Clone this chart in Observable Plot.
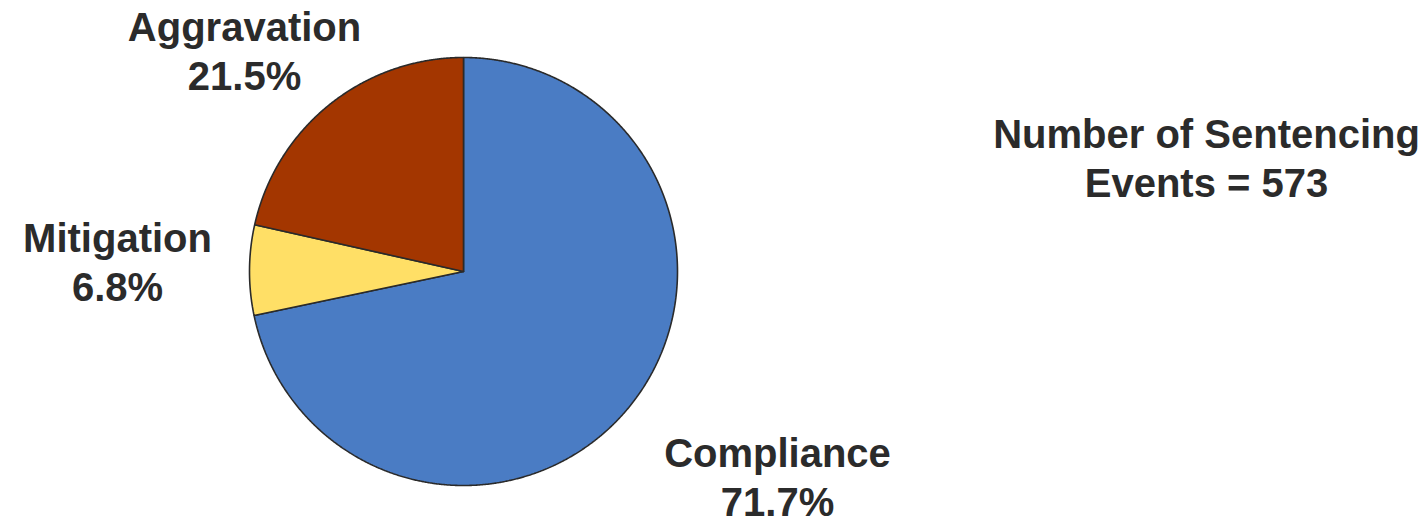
<!DOCTYPE html>
<html>
<head>
<meta charset="utf-8">
<script src="https://cdn.jsdelivr.net/npm/d3@7"></script>
<script src="https://cdn.jsdelivr.net/npm/@observablehq/plot@0.6"></script>
<style>
  html, body { margin: 0; padding: 0; background: #fff; }
  #chart { width: 1428px; height: 519px; }
</style>
</head>
<body>
<div id="chart"></div>
<script>
// ---- data ----
const categories = ["Compliance", "Mitigation", "Aggravation"];
const percentages = [71.7, 6.8, 21.5];
const colors = ["#4a7cc4", "#ffdf66", "#a33600"];
const totalEvents = 573;

// ---- layout (pixels) ----
const W = 1428, H = 519;
const cx = 463, cy = 271, R = 214;
// label anchors (pixel, middle-aligned x, top of first line)
const labelPx = [[777, 432], [117, 217], [244, 6]];
const notePx = [1206, 112];

const toX = px => (px - cx) / R;
const toY = py => (cy - py) / R;

// slices -> polygons in data units
const pie = d3.pie().sort(null).value(d => d)(percentages);
const polyPoints = [];
pie.forEach((s, i) => {
  const name = categories[i];
  polyPoints.push({name, x: 0, y: 0});
  const n = Math.max(2, Math.ceil((s.endAngle - s.startAngle) / (Math.PI / 720)));
  for (let k = 0; k <= n; k++) {
    const a = s.startAngle + (s.endAngle - s.startAngle) * k / n;
    polyPoints.push({name, x: Math.sin(a), y: Math.cos(a)});
  }
  polyPoints.push({name, x: 0, y: 0});
});

const labels = categories.map((c, i) => ({
  text: `${c}\n${percentages[i].toFixed(1)}%`,
  x: toX(labelPx[i][0]),
  y: toY(labelPx[i][1])
}));
const note = [{text: `Number of Sentencing\nEvents = ${totalEvents}`, x: toX(notePx[0]), y: toY(notePx[1])}];

const chart = Plot.plot({
  width: W,
  height: H,
  marginLeft: cx - R,
  marginRight: W - (cx + R),
  marginTop: cy - R,
  marginBottom: H - (cy + R),
  x: {domain: [-1, 1], axis: null},
  y: {domain: [-1, 1], axis: null},
  color: {domain: categories, range: colors},
  style: {fontFamily: "'Liberation Sans', Arial, sans-serif", background: "#fff", overflow: "visible"},
  marks: [
    Plot.line(polyPoints, {
      x: "x", y: "y", z: "name", fill: "name",
      stroke: "#2a2a2a", strokeWidth: 1.6, strokeLinejoin: "miter", curve: "linear"
    }),
    Plot.text(labels, {
      x: "x", y: "y", text: "text", textAnchor: "middle", lineAnchor: "top",
      fontSize: 40, fontWeight: "bold", lineHeight: 1.225, fill: "#2b2b2b"
    }),
    Plot.text(note, {
      x: "x", y: "y", text: "text", textAnchor: "middle", lineAnchor: "top",
      fontSize: 40, fontWeight: "bold", lineHeight: 1.24, fill: "#2b2b2b"
    })
  ]
});
document.getElementById("chart").appendChild(chart);
</script>
</body>
</html>
